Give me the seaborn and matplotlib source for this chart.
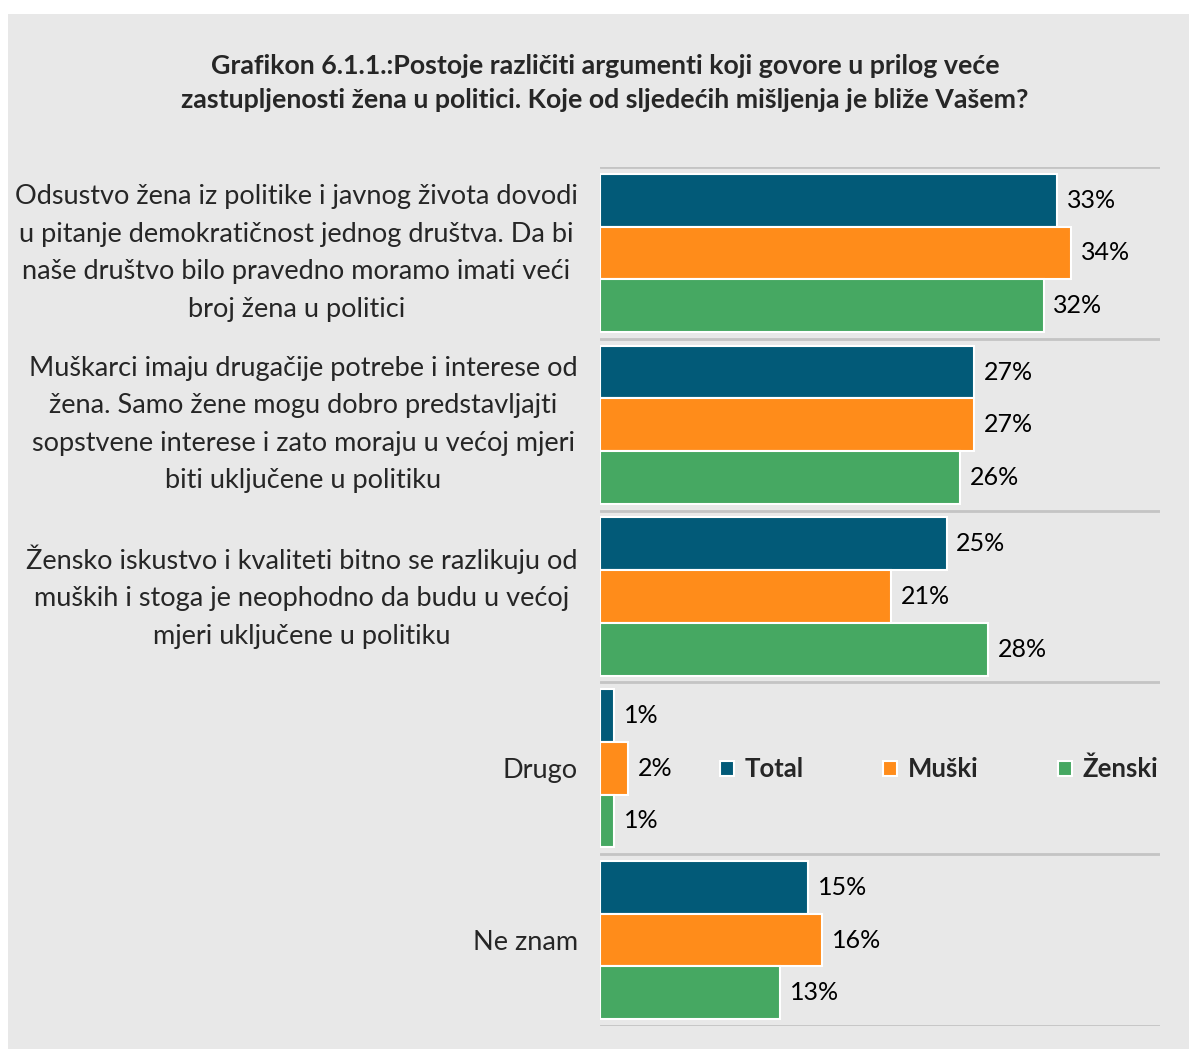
import pandas as pd
import matplotlib.pyplot as plt
import seaborn as sns
from matplotlib.patches import Rectangle

categories = [
    "Odsustvo žena iz politike i javnog života dovodi\nu pitanje demokratičnost jednog društva. Da bi\nnaše društvo bilo pravedno moramo imati veći\nbroj žena u politici",
    "Muškarci imaju drugačije potrebe i interese od\nžena. Samo žene mogu dobro predstavljajti\nsopstvene interese i zato moraju u većoj mjeri\nbiti uključene u politiku",
    "Žensko iskustvo i kvaliteti bitno se razlikuju od\nmuških i stoga je neophodno da budu u većoj\nmjeri uključene u politiku",
    "Drugo",
    "Ne znam",
]
series = ["Total", "Muški", "Ženski"]
total = [33, 27, 25, 1, 15]
muski = [34, 27, 21, 2, 16]
zenski = [32, 26, 28, 1, 13]
colors = ["#025a78", "#ff8c1a", "#46a862"]

title = ("Grafikon 6.1.1.:Postoje različiti argumenti koji govore u prilog veće\n"
         "zastupljenosti žena u politici. Koje od sljedećih mišljenja je bliže Vašem?")

df = pd.DataFrame({
    "kategorija": categories * 3,
    "grupa": [s for s in series for _ in categories],
    "procenat": total + muski + zenski,
})

sns.set_theme(style="white")
plt.rcParams["font.family"] = ["Lato", "DejaVu Sans"]

fig = plt.figure(figsize=(11.89, 10.49), dpi=100)
fig.patch.set_facecolor("white")
# gray panel behind everything, thin white margin top and left
fig.patches.append(Rectangle((8 / 1189, 0), 1, 1 - 14 / 1049, transform=fig.transFigure,
                             facecolor="#e8e8e8", edgecolor="none", zorder=-10))
ax = fig.add_axes([600 / 1189, 1 - 1026 / 1049, 560 / 1189, 859 / 1049])
ax.set_facecolor("none")

sns.barplot(data=df, y="kategorija", x="procenat", hue="grupa", orient="h",
            palette=colors, width=0.92, edgecolor="white", linewidth=1.5,
            saturation=1, ax=ax)

for c in ax.containers:
    ax.bar_label(c, fmt="%d%%", padding=7, fontsize=18, color="black")

# separator lines between the groups
for i in range(len(categories) + 1):
    ax.axhline(i - 0.5, color="#c4c4c4", lw=2, zorder=0)

ax.set_xlim(0, 40.4)
ax.set_ylim(len(categories) - 0.5, -0.5)
ax.set_xticks([])
ax.set_xlabel("")
ax.set_ylabel("")
sns.despine(ax=ax, left=True, bottom=True)
ax.tick_params(axis="y", length=0, pad=16, labelsize=19.5)
for t in ax.get_yticklabels():
    t.set_multialignment("center")
    t.set_linespacing(1.62)
    if "\n" in t.get_text():
        t.set_va("center")

leg = ax.legend(loc="center right", bbox_to_anchor=(0.997, 0.299), ncol=3, frameon=False,
                borderpad=0, borderaxespad=0,
                handlelength=0.55, handleheight=0.55, handletextpad=0.4,
                columnspacing=3.1, prop={"weight": "bold", "size": 18.5})

fig.text(605 / 1189, 1 - 83 / 1049, title, ha="center", va="center",
         fontsize=19.3, fontweight="bold", linespacing=1.5)

fig.savefig("out.png", dpi=100)
